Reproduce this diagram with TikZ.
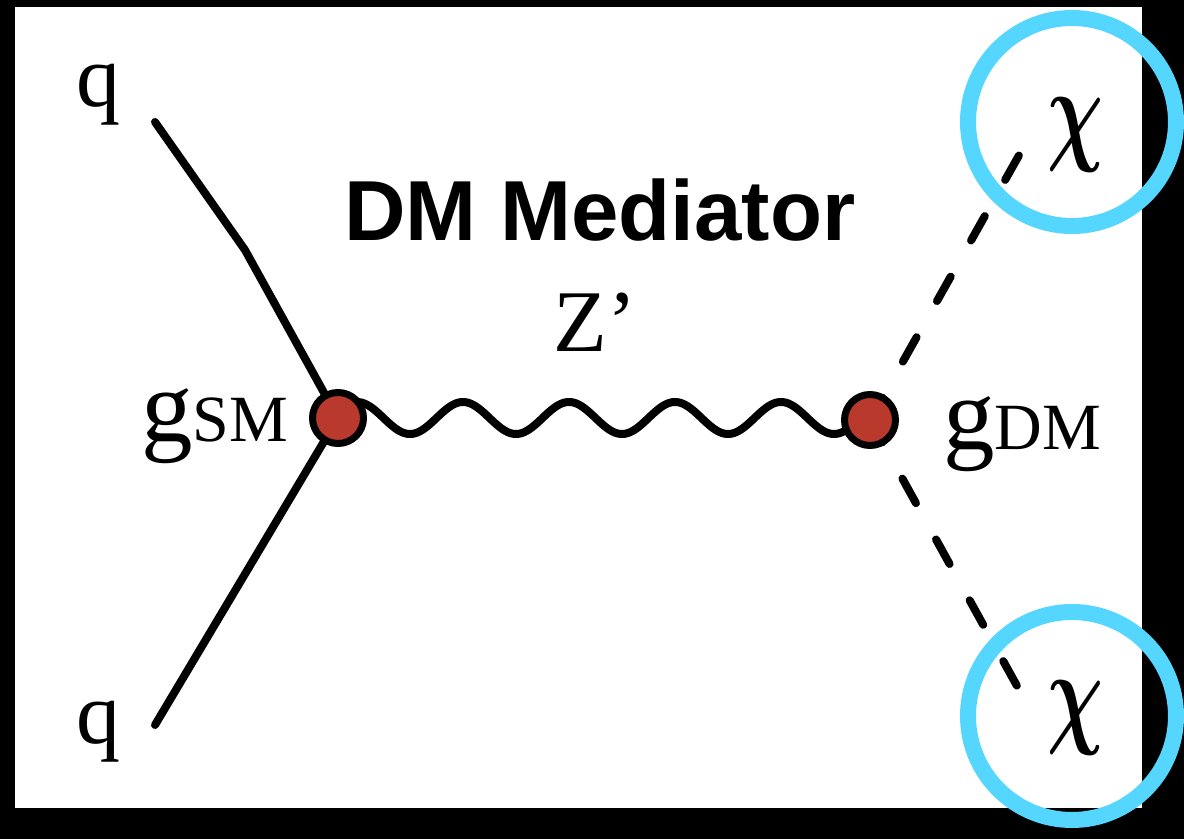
\documentclass[tikz,border=0pt]{standalone}
\usepackage{fontspec}
\setmainfont{Liberation Serif}
\newfontfamily\headfont{Liberation Sans}
\definecolor{vred}{RGB}{185,58,44}
\definecolor{cyanring}{RGB}{85,214,254}
\newcommand{\chisym}{\scalebox{3.9}[5.8]{\fontsize{10pt}{10pt}\selectfont\boldmath$\chi$}}
\begin{document}
\begin{tikzpicture}[x=0.5pt,y=-0.5pt,
  line/.style={line width=4pt, line cap=round},
  dashline/.style={line width=4pt, line cap=round, dash pattern=on 14pt off 20.75pt, dash phase=1.25pt},
  wave/.style={line width=4pt, line cap=round},
  vertex/.style={circle, draw=black, fill=vred, line width=3.5pt, minimum size=25.5pt, inner sep=0pt},
  ring/.style={draw=cyanring, line width=8pt},
  lbl/.style={inner sep=0pt, font=\fontsize{44pt}{44pt}\selectfont},
  chilbl/.style={inner sep=0pt},
  title/.style={inner sep=0pt, font=\headfont\bfseries\fontsize{42.6pt}{42.6pt}\selectfont}
]
\useasboundingbox (0,0) rectangle (1184,839);
\fill[black] (0,0) rectangle (1184,839);
\fill[white] (15,7) rectangle (1142,808);

% coordinates
\coordinate (vlc) at (338,418);
\coordinate (vrc) at (870,420);
\coordinate (q1end) at (155,122);
\coordinate (bend) at (245,250);
\coordinate (q2end) at (155,725);
\coordinate (x1end) at (1022,150);
\coordinate (x2end) at (1022,695);

% labels
\node[lbl, anchor=base] (q1) at (98,107) {q};
\node[lbl, anchor=base] (q2) at (98,743) {q};
\node[lbl, anchor=base west] (zp) at (553,352) {Z’};
\node[inner sep=0pt, anchor=base west] (gsm) at (141,442) {\fontsize{51.5pt}{51.5pt}\selectfont g\fontsize{33pt}{33pt}\selectfont SM};
\node[inner sep=0pt, anchor=base west] (gdm) at (943,450) {\fontsize{51.5pt}{51.5pt}\selectfont g\fontsize{33pt}{33pt}\selectfont DM};
\node[title, anchor=base west] (dm) at (344,241) {DM Mediator};
\node[chilbl] (chi1) at (1075,135) {\chisym};
\node[chilbl] (chi2) at (1075,718) {\chisym};

% lines
\draw[line, line join=round] (q1end) -- (bend) -- (vlc);
\draw[line] (q2end) -- (vlc);
\draw[wave, shift={(vlc)}] plot[domain=0:532, samples=300, variable=\t] (\t, {-16*cos(3.39623*(\t-19))});
\draw[dashline] (vrc) -- (x1end);
\draw[dashline] (vrc) -- (x2end);

% vertices
\node[vertex] (vl) at (vlc) {};
\node[vertex] (vr) at (vrc) {};

% rings
\draw[ring] (1072,122) circle (104);
\draw[ring] (1072,716) circle (104);
\end{tikzpicture}
\end{document}
